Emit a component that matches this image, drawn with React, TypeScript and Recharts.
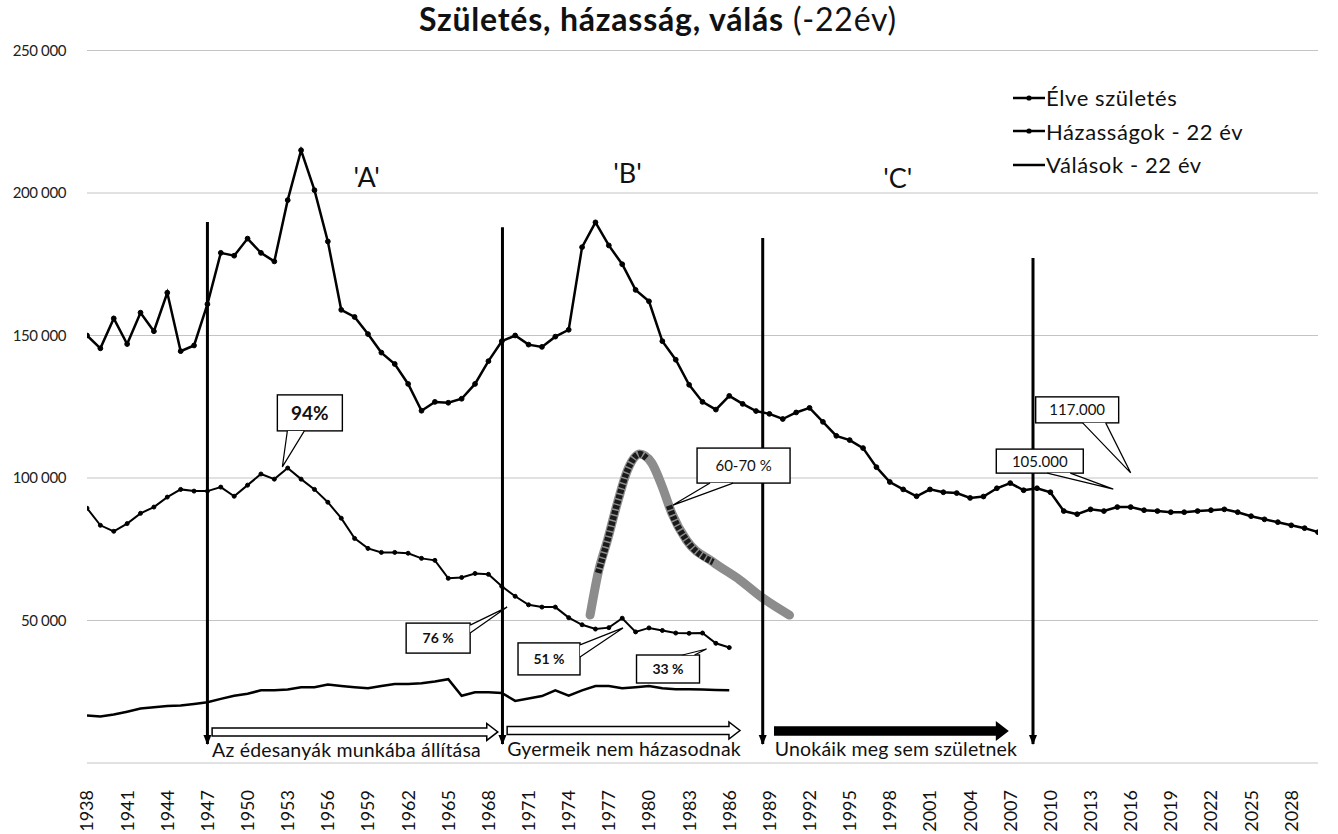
import React from 'react';
import { LineChart, Line, XAxis, YAxis, CartesianGrid, ReferenceLine, ReferenceDot, Legend } from 'recharts';

const FONT = 'Lato, "Open Sans", sans-serif';

// years 1938 .. 2030
const firstYear = 1938;
const xTicks = [1938, 1941, 1944, 1947, 1950, 1953, 1956, 1959, 1962, 1965, 1968, 1971, 1974, 1977, 1980, 1983, 1986, 1989, 1992, 1995, 1998, 2001, 2004, 2007, 2010, 2013, 2016, 2019, 2022, 2025, 2028];
const yTicks = [0, 50000, 100000, 150000, 200000, 250000];

const elveSzuletes = [
  150000, 145500, 156000, 147000, 158000, 151500, 165000, 144500, 146500, 161000, // 1938-1947
  179000, 178000, 184000, 179000, 176000, 197500, 215000, 201000, 183000, 159000, // 1948-1957
  156500, 150500, 144000, 140000, 133000, 123600, 126700, 126400, 127800, 133000, // 1958-1967
  141000, 148000, 150000, 146800, 146000, 149600, 152000, 181000, 189700, 181600, // 1968-1977
  175000, 166000, 162000, 148000, 141500, 132700, 126700, 124000, 128800, 126000, // 1978-1987
  123500, 122500, 120700, 123000, 124600, 119700, 114800, 113300, 110500, 103800, // 1988-1997
  98600, 96000, 93600, 96000, 95000, 94700, 93000, 93500, 96400, 98200, // 1998-2007
  95700, 96400, 95000, 88400, 87300, 89000, 88400, 89800, 89800, 88700, // 2008-2017
  88400, 88000, 88000, 88400, 88700, 89000, 88000, 86600, 85500, 84500, // 2018-2027
  83400, 82400, 81000, // 2028-2030
];

const hazassagok22 = [
  89400, 83400, 81300, 84000, 87600, 89800, 93300, 96000, 95400, 95400, // 1938-1947
  96800, 93600, 97500, 101400, 99600, 103500, 99600, 96000, 91500, 85900, // 1948-1957
  78800, 75300, 73900, 73900, 73600, 71800, 71100, 64800, 65100, 66500, // 1958-1967
  66200, 62000, 58500, 55500, 54700, 54700, 51000, 48500, 47000, 47500, // 1968-1977
  50800, 46000, 47400, 46500, 45600, 45500, 45600, 42000, 40500, // 1978-1986
];

const valasok22 = [
  16700, 16300, 17000, 18000, 19100, 19600, 20000, 20200, 20700, 21300, // 1938-1947
  22500, 23600, 24300, 25500, 25500, 25800, 26600, 26600, 27500, 27000, // 1948-1957
  26600, 26200, 27000, 27700, 27700, 28000, 28600, 29400, 23600, 24800, // 1958-1967
  24800, 24600, 21800, 22600, 23500, 25500, 23600, 25500, 27000, 27000, // 1968-1977
  26200, 26600, 27000, 26200, 25900, 25900, 25800, 25600, 25500, // 1978-1986
];

const legendOrder = ['elve', 'hazas', 'valas'];

// hand drawn curve (60-70 %)
const curveYears = [1975.6, 1976.2, 1976.9, 1977.7, 1978.4, 1979.3, 1980.2, 1981.0, 1981.7, 1982.8, 1984.8, 1986.8, 1988.5, 1990.5];
const curveValues = [51900, 66700, 78200, 92300, 102800, 108400, 105300, 96800, 87700, 78200, 70500, 64200, 57900, 51900];
const darkUpYears = [1976.2, 1976.9, 1977.7, 1978.4, 1979.3, 1979.9];
const darkUpValues = [66700, 78200, 92300, 102800, 108400, 106600];
const darkDownYears = [1981.5, 1981.7, 1982.8, 1984.8];
const darkDownValues = [90300, 87700, 78200, 70500];

const rows = elveSzuletes.map((v, i) => ({
  year: firstYear + i,
  elve: v,
  hazas: hazassagok22[i],
  valas: valasok22[i],
}));
const curveRows = curveYears.map((y, i) => ({ year: y, v: curveValues[i] }));
const darkUpRows = darkUpYears.map((y, i) => ({ year: y, v: darkUpValues[i] }));
const darkDownRows = darkDownYears.map((y, i) => ({ year: y, v: darkDownValues[i] }));

const periodLabels = [
  { text: "'A'", year: 1958.9, value: 205600 },
  { text: "'B'", year: 1978.4, value: 207000 },
  { text: "'C'", year: 1998.6, value: 205300 },
];

const dividers = [
  { year: 1947.0, top: 189800, bottom: 6700 },
  { year: 1969.05, top: 188000, bottom: 6700 },
  { year: 1988.5, top: 184200, bottom: 6700 },
  { year: 2008.7, top: 177200, bottom: 6700 },
];

const arrows = [
  { from: 1947.35, to: 1968.7, value: 10900, solid: false, text: 'Az édesanyák munkába állítása' },
  { from: 1969.4, to: 1986.8, value: 11400, solid: false, text: 'Gyermeik nem házasodnak' },
  { from: 1989.4, to: 2006.8, value: 11200, solid: true, text: 'Unokáik meg sem születnek' },
];

type CalloutDef = {
  text: string; year: number; value: number;
  box: number[]; base: number[][]; size: number; weight: number;
};
const callouts: CalloutDef[] = [
  { text: '94%', year: 1952.6, value: 103900, box: [-5, -72, 65, 36], base: [[5, -36], [22, -36]], size: 19, weight: 700 },
  { text: '76 %', year: 1969.4, value: 54700, box: [-101, 16, 64, 30], base: [[-37, 18], [-37, 26]], size: 14, weight: 700 },
  { text: '51 %', year: 1978.06, value: 47400, box: [-105, 15, 62, 32], base: [[-43, 17], [-43, 29]], size: 14, weight: 700 },
  { text: '33 %', year: 1984.3, value: 40000, box: [-70, 6, 63, 28], base: [[-24, 6], [-12, 6]], size: 14, weight: 700 },
  { text: '60-70 %', year: 1981.8, value: 90500, box: [24, -57, 93, 35], base: [[37, -22], [60, -22]], size: 15, weight: 400 },
  { text: '105.000', year: 2014.7, value: 96100, box: [-117, -40, 87, 24], base: [[-66, -16], [-43, -16]], size: 15, weight: 400 },
  { text: '117.000', year: 2016.0, value: 101800, box: [-95, -76, 83, 26], base: [[-48, -50], [-25, -50]], size: 15, weight: 400 },
];

const fmt = (v: number) => (v === 0 ? '' : v.toLocaleString('en-US').replace(',', ' '));

const XTick = (props: any) => {
  const { x, y, payload } = props;
  return (
    <g transform={`translate(${x},${y})`}>
      <text transform="rotate(-90)" x={-19} y={0} dy="0.36em" textAnchor="end" fontFamily={FONT} fontSize={18} fill="#111">
        {payload.value}
      </text>
    </g>
  );
};

const YTick = (props: any) => {
  const { x, y, payload } = props;
  return (
    <text x={x - 13} y={y} dy="0.35em" textAnchor="end" fontFamily={FONT} fontSize={15} fill="#222" letterSpacing={-0.4}>
      {fmt(payload.value)}
    </text>
  );
};

const Callout = ({ cx, cy, c }: { cx: number; cy: number; c: CalloutDef }) => {
  const [bx, by, bw, bh] = c.box;
  const [[p1x, p1y], [p2x, p2y]] = c.base;
  return (
    <g>
      <rect x={cx + bx} y={cy + by} width={bw} height={bh} fill="#fff" stroke="#000" strokeWidth={1.4} />
      <polygon points={`${cx + p1x},${cy + p1y} ${cx},${cy} ${cx + p2x},${cy + p2y}`} fill="#fff" stroke="none" />
      <polyline points={`${cx + p1x},${cy + p1y} ${cx},${cy} ${cx + p2x},${cy + p2y}`} fill="none" stroke="#000" strokeWidth={1.2} />
      <text x={cx + bx + bw / 2} y={cy + by + bh / 2} dy="0.36em" textAnchor="middle" fontFamily={FONT} fontSize={c.size} fontWeight={c.weight} fill="#111">
        {c.text}
      </text>
    </g>
  );
};

const Divider = (props: any) => {
  const { x1, y1, x2, y2 } = props;
  return (
    <g>
      <line x1={x1} y1={y1} x2={x2} y2={y2} stroke="#000" strokeWidth={3} />
      <polygon points={`${x2 - 4},${y2 - 9} ${x2 + 4},${y2 - 9} ${x2},${y2 + 1}`} fill="#000" />
    </g>
  );
};

const makeArrow = (solid: boolean, text: string) => (props: any) => {
  const { x1, x2, y1 } = props;
  const y = y1;
  const pts = [
    [x1, y - 4], [x2 - 11, y - 4], [x2 - 11, y - 8.5], [x2, y], [x2 - 11, y + 8.5], [x2 - 11, y + 4], [x1, y + 4],
  ].map((p) => p.join(',')).join(' ');
  return (
    <g>
      <polygon points={pts} fill={solid ? '#000' : '#fff'} stroke="#000" strokeWidth={1.5} />
      <text x={x1} y={y + 25} fontFamily={FONT} fontSize={19.5} letterSpacing={0.2} fill="#111">{text}</text>
    </g>
  );
};

const LegendContent = (props: any) => {
  const items = (props.payload || [])
    .filter((p: any) => legendOrder.includes(p.dataKey))
    .sort((a: any, b: any) => legendOrder.indexOf(a.dataKey) - legendOrder.indexOf(b.dataKey));
  return (
    <div style={{ fontFamily: FONT, fontSize: 22, letterSpacing: 0.6, color: '#111' }}>
      {items.map((p: any) => (
        <div key={p.dataKey} style={{ display: 'flex', alignItems: 'center', height: 33.5 }}>
          <svg width={34} height={12} style={{ marginRight: 0 }}>
            <line x1={1} y1={6} x2={33} y2={6} stroke="#000" strokeWidth={2.5} />
            {p.dataKey !== 'valas' && <circle cx={17} cy={6} r={2.6} fill="#000" />}
          </svg>
          <span>{p.value}</span>
        </div>
      ))}
    </div>
  );
};

export default function App() {
  return (
    <div style={{ position: 'absolute', left: 0, top: 0, width: 1338, height: 834, background: '#fff', fontFamily: FONT }}>
      <div style={{ position: 'absolute', left: 0, top: 1, width: 1316, textAlign: 'center', fontSize: 32, letterSpacing: 0.8, lineHeight: '36px', color: '#111', zIndex: 2 }}>
        <b>Születés, házasság, válás</b> <span>(-22év)</span>
      </div>
      <LineChart width={1338} height={834} data={rows} margin={{ top: 50.5, right: 20, bottom: 0, left: 0 }}>
        <CartesianGrid horizontal vertical={false} stroke="#c4c4c4" strokeWidth={1} />
        <XAxis
          dataKey="year"
          type="number"
          domain={[1938, 2030]}
          ticks={xTicks}
          interval={0}
          height={71}
          axisLine={false}
          tickLine={false}
          tick={<XTick />}
          allowDataOverflow
        />
        <YAxis
          domain={[0, 250000]}
          ticks={yTicks}
          width={87}
          axisLine={false}
          tickLine={false}
          tick={<YTick />}
          interval={0}
        />
        <Legend
          layout="vertical"
          align="center"
          verticalAlign="middle"
          wrapperStyle={{ position: 'absolute', left: 1012, top: 81, width: 320 }}
          content={<LegendContent />}
        />
        <Line dataKey="elve" name="Élve születés" stroke="#000" strokeWidth={2.5} dot={{ r: 2.4, fill: '#000', stroke: '#000', strokeWidth: 1 }} isAnimationActive={false} />
        <Line dataKey="hazas" name="Házasságok - 22 év" stroke="#000" strokeWidth={2} dot={{ r: 2, fill: '#000', stroke: '#000', strokeWidth: 1 }} isAnimationActive={false} />
        <Line dataKey="valas" name="Válások - 22 év" stroke="#000" strokeWidth={2.5} dot={false} isAnimationActive={false} />
        <Line data={curveRows} dataKey="v" type="monotone" stroke="#8c8c8c" strokeWidth={9} strokeLinecap="round" dot={false} legendType="none" isAnimationActive={false} />
        <Line data={darkUpRows} dataKey="v" type="monotone" stroke="#1a1a1a" strokeWidth={6.5} strokeDasharray="4 1.5" dot={false} legendType="none" isAnimationActive={false} />
        <Line data={darkDownRows} dataKey="v" type="monotone" stroke="#1a1a1a" strokeWidth={6.5} strokeDasharray="4 1.5" dot={false} legendType="none" isAnimationActive={false} />
        {dividers.map((d) => (
          <ReferenceLine key={d.year} segment={[{ x: d.year, y: d.top }, { x: d.year, y: d.bottom }]} ifOverflow="visible" shape={<Divider />} />
        ))}
        {arrows.map((a) => (
          <ReferenceLine key={a.text} segment={[{ x: a.from, y: a.value }, { x: a.to, y: a.value }]} ifOverflow="visible" shape={makeArrow(a.solid, a.text)} />
        ))}
        {periodLabels.map((p) => (
          <ReferenceDot
            key={p.text}
            x={p.year}
            y={p.value}
            ifOverflow="visible"
            shape={(s: any) => (
              <text x={s.cx} y={s.cy} dy="0.36em" textAnchor="middle" fontFamily={FONT} fontSize={27} fill="#111">{p.text}</text>
            )}
          />
        ))}
        {callouts.map((c) => (
          <ReferenceDot key={c.text} x={c.year} y={c.value} ifOverflow="visible" shape={(s: any) => <Callout cx={s.cx} cy={s.cy} c={c} />} />
        ))}
      </LineChart>
    </div>
  );
}
